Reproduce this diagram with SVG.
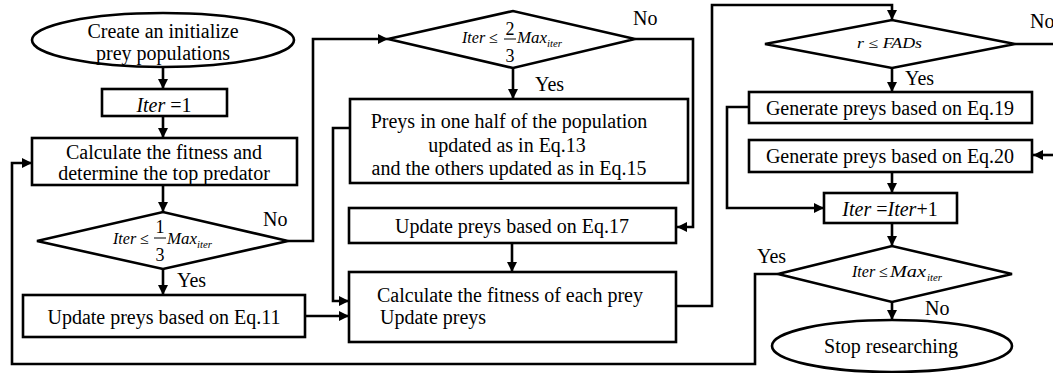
<svg xmlns="http://www.w3.org/2000/svg" width="1053" height="373" viewBox="0 0 1053 373">
<style>
.b{fill:#fff;stroke:#000;stroke-width:2.6}
.c{fill:none;stroke:#000;stroke-width:2.6}
.t{font-family:"Liberation Serif","Times New Roman",serif;font-size:20px;fill:#000}
.mid{text-anchor:middle}
.m{font-family:"Liberation Serif","Times New Roman",serif;font-size:16px;fill:#000}
.d{font-family:"Liberation Serif","Times New Roman",serif;font-size:18px;fill:#000;text-anchor:middle}
.i{font-style:italic}
.s{font-family:"Liberation Serif","Times New Roman",serif;font-size:10px;font-style:italic;fill:#000}
.fr{stroke:#000;stroke-width:1}
</style>
<defs>
<marker id="ah" markerUnits="userSpaceOnUse" markerWidth="11" markerHeight="11" refX="10" refY="5" orient="auto">
<path d="M0,0 L10,5 L0,10 z" fill="#000"/>
</marker>
</defs>
<rect width="1053" height="373" fill="#fff"/>
<g id="connectors" class="c">
<path d="M163,67 V89" marker-end="url(#ah)"/>
<path d="M163,116 V138" marker-end="url(#ah)"/>
<path d="M163,185 V212" marker-end="url(#ah)"/>
<path d="M288,241 H313 V39 H388" marker-end="url(#ah)"/>
<path d="M163,269 V295" marker-end="url(#ah)"/>
<path d="M305,316 H349" marker-end="url(#ah)"/>
<path d="M513,68 V99" marker-end="url(#ah)"/>
<path d="M635,39 H693 V227 H677" marker-end="url(#ah)"/>
<path d="M350,128 H333 V301 H349" marker-end="url(#ah)"/>
<path d="M512,243 V272" marker-end="url(#ah)"/>
<path d="M676,306 H712 V5 H892 V20" marker-end="url(#ah)"/>
<path d="M892,68 V92" marker-end="url(#ah)"/>
<path d="M1015,44 H1055"/>
<path d="M1055,155 H1033" marker-end="url(#ah)"/>
<path d="M749,107 H727 V208 H824" marker-end="url(#ah)"/>
<path d="M892,172 V193" marker-end="url(#ah)"/>
<path d="M892,223 V246" marker-end="url(#ah)"/>
<path d="M778,274 H755 V364 H12 V163 H32" marker-end="url(#ah)"/>
<path d="M892,302 V320" marker-end="url(#ah)"/>
</g>
<g id="labels">
<text class="t" x="263" y="226">No</text>
<text class="t" x="177" y="287">Yes</text>
<text class="t" x="633" y="25">No</text>
<text class="t" x="535" y="91">Yes</text>
<text class="t" x="1030" y="28">No</text>
<text class="t" x="905" y="85">Yes</text>
<text class="t" x="757" y="263">Yes</text>
<text class="t" x="925" y="315">No</text>
</g>
<g id="start">
<ellipse class="b" cx="163" cy="40" rx="131" ry="27"/>
<text class="t mid" x="163" y="38">Create an initialize</text>
<text class="t mid" x="163" y="60">prey populations</text>
</g>
<g id="iter1">
<rect class="b" x="102" y="89" width="125" height="27"/>
<text class="t mid" x="164" y="112"><tspan class="i">Iter</tspan> =1</text>
</g>
<g id="calcTop">
<rect class="b" x="32" y="138" width="265" height="47"/>
<text class="t mid" x="164" y="159">Calculate the fitness and</text>
<text class="t mid" x="164" y="180">determine the top predator</text>
</g>
<g id="dec1">
<polygon class="b" points="37,241 163,212 288,241 163,269"/>
<text class="m i" x="113" y="244">Iter</text>
<text class="m" x="140" y="244">≤</text>
<text class="d" x="160" y="233">1</text>
<line class="fr" x1="154" y1="238" x2="166" y2="238"/>
<text class="d" x="160" y="261">3</text>
<text class="m i" x="167" y="244" textLength="30" lengthAdjust="spacingAndGlyphs">Max</text>
<text class="s" x="197" y="248" textLength="15" lengthAdjust="spacingAndGlyphs">iter</text>
</g>
<g id="eq11">
<rect class="b" x="23" y="295" width="282" height="42"/>
<text class="t mid" x="164" y="324">Update preys based on Eq.11</text>
</g>
<g id="dec2">
<polygon class="b" points="388,39 513,11 635,39 513,68"/>
<text class="m i" x="462" y="43">Iter</text>
<text class="m" x="489" y="43">≤</text>
<text class="d" x="510" y="35">2</text>
<line class="fr" x1="504" y1="39" x2="516" y2="39"/>
<text class="d" x="510" y="62">3</text>
<text class="m i" x="517" y="43" textLength="30" lengthAdjust="spacingAndGlyphs">Max</text>
<text class="s" x="547" y="47" textLength="15" lengthAdjust="spacingAndGlyphs">iter</text>
</g>
<g id="eq13-15">
<rect class="b" x="350" y="99" width="338" height="84"/>
<text class="t mid" x="509" y="128">Preys in one half of the population</text>
<text class="t mid" x="507" y="152">updated as in Eq.13</text>
<text class="t mid" x="509" y="175">and the others updated as in Eq.15</text>
</g>
<g id="eq17">
<rect class="b" x="349" y="208" width="327" height="35"/>
<text class="t mid" x="512" y="233">Update preys based on Eq.17</text>
</g>
<g id="calcEach">
<rect class="b" x="349" y="272" width="327" height="70"/>
<text class="t" x="377" y="302">Calculate the fitness of each prey</text>
<text class="t" x="380" y="324">Update preys</text>
</g>
<g id="dec3">
<polygon class="b" points="765,44 892,20 1015,44 892,68"/>
<text class="m i" x="857" y="48" style="font-size:14px" textLength="65" lengthAdjust="spacingAndGlyphs">r <tspan style="font-style:normal">≤</tspan> FADs</text>
</g>
<g id="eq19">
<rect class="b" x="749" y="92" width="283" height="31"/>
<text class="t mid" x="890" y="115">Generate preys based on Eq.19</text>
</g>
<g id="eq20">
<rect class="b" x="749" y="140" width="283" height="32"/>
<text class="t mid" x="890" y="163">Generate preys based on Eq.20</text>
</g>
<g id="iterInc">
<rect class="b" x="824" y="193" width="133" height="30"/>
<text class="t mid" x="890" y="216"><tspan class="i">Iter</tspan> =<tspan class="i">Iter</tspan>+1</text>
</g>
<g id="dec4">
<polygon class="b" points="778,274 892,246 1012,274 892,302"/>
<text class="m i" x="852" y="277">Iter</text>
<text class="m" x="879" y="277">≤</text>
<text class="m i" x="890" y="277" textLength="36" lengthAdjust="spacingAndGlyphs">Max</text>
<text class="s" x="927" y="281" textLength="15" lengthAdjust="spacingAndGlyphs">iter</text>
</g>
<g id="stop">
<ellipse class="b" cx="892" cy="346" rx="120" ry="26"/>
<text class="t mid" x="891" y="353">Stop researching</text>
</g>
</svg>
